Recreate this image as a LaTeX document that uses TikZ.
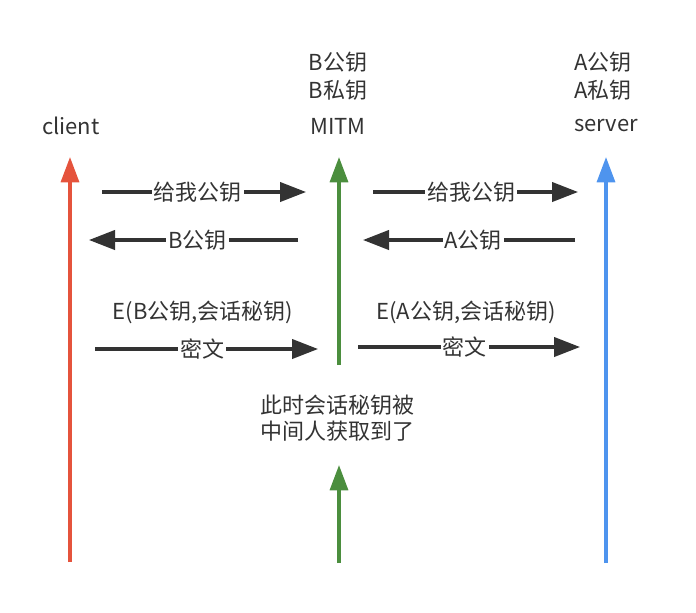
\documentclass[tikz,border=0pt]{standalone}
\usepackage{fontspec}
\setmainfont{Noto Sans CJK SC}
\usetikzlibrary{arrows.meta}
\definecolor{lred}{HTML}{E5533C}
\definecolor{lgreen}{HTML}{4B8E3E}
\definecolor{lblue}{HTML}{4E94EE}
\definecolor{msg}{HTML}{333333}
\definecolor{txt}{HTML}{333333}
\tikzset{
  life/.style={line width=2.5pt,-{Triangle[length=19pt,width=13.5pt]}},
  msgarrow/.style={draw=msg,line width=2.3pt,-{Triangle[length=19.5pt,width=14.5pt]}},
  lbl/.style={text=txt,font=\fontsize{16.5}{20}\selectfont,inner sep=1pt},
  onarrow/.style={lbl,fill=white,inner sep=1.5pt},
}
\begin{document}
\begin{tikzpicture}[x=0.75pt,y=-0.75pt]
\useasboundingbox (0,0) rectangle (696,612);
% lifeline coordinates
\coordinate (cbot) at (70,562);
\coordinate (ctop) at (70,157);
\coordinate (mbot) at (339,365);
\coordinate (mtop) at (339,157);
\coordinate (lbot) at (339,563);
\coordinate (ltop) at (339,465);
\coordinate (sbot) at (606,563);
\coordinate (stop) at (606,157);
\draw[life,lred] (cbot) -- (ctop);
\draw[life,lgreen] (mbot) -- (mtop);
\draw[life,lgreen] (lbot) -- (ltop);
\draw[life,lblue] (sbot) -- (stop);
% heads
\node[lbl] (client) at (71,126) {client};
\node[lbl] (mitm) at (338,126) {MITM};
\node[lbl] (server) at (606,126) {server};
\node[lbl] (bpub) at (338,62) {B公钥};
\node[lbl] (bpri) at (338,90) {B私钥};
\node[lbl] (apub) at (603,62) {A公钥};
\node[lbl] (apri) at (603,90) {A私钥};
% message endpoints
\coordinate (m1a) at (102,192); \coordinate (m1b) at (306,192);
\coordinate (m2a) at (298,240); \coordinate (m2b) at (89,240);
\coordinate (m3a) at (373,192); \coordinate (m3b) at (578,192);
\coordinate (m4a) at (575,240); \coordinate (m4b) at (363,240);
\coordinate (m5a) at (95,349);  \coordinate (m5b) at (318,349);
\coordinate (m6a) at (358,347); \coordinate (m6b) at (580,347);
\draw[msgarrow] (m1a) -- node[onarrow,pos=0.47] (l1) {给我公钥} (m1b);
\draw[msgarrow] (m2a) -- node[onarrow,pos=0.48] (l2) {B公钥} (m2b);
\draw[msgarrow] (m3a) -- node[onarrow,pos=0.48] (l3) {给我公钥} (m3b);
\draw[msgarrow] (m4a) -- node[onarrow,pos=0.48] (l4) {A公钥} (m4b);
\draw[msgarrow] (m5a) -- node[onarrow,pos=0.48] (l5) {密文} (m5b);
\draw[msgarrow] (m6a) -- node[onarrow,pos=0.48] (l6) {密文} (m6b);
\node[lbl] (e1) at (203,312) {E(B公钥,会话秘钥)};
\node[lbl] (e2) at (466,312) {E(A公钥,会话秘钥)};
\node[lbl,align=center] (note) at (337,418) {此时会话秘钥被\\中间人获取到了};
\end{tikzpicture}
\end{document}
